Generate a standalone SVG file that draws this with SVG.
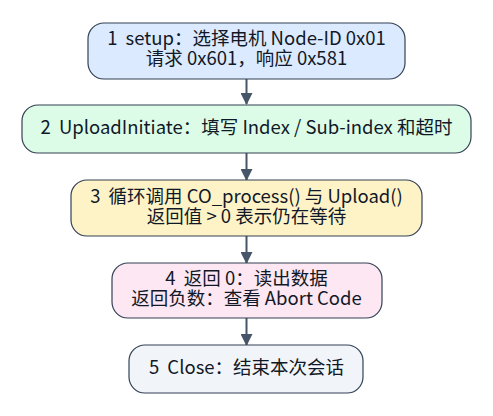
<svg xmlns="http://www.w3.org/2000/svg" width="493" height="416" viewBox="0 0 493 416">
<style>
.n rect{stroke:#334155;stroke-width:1.2}
.n text{font-family:"Noto Sans CJK SC","Noto Sans",sans-serif;font-size:18.5px;fill:#111827;text-anchor:middle}
.e{stroke:#475569;stroke-width:2;fill:none;marker-end:url(#ah)}
</style>
<defs>
<marker id="ah" viewBox="0 0 12 12" refX="11" refY="6" markerWidth="12" markerHeight="12" markerUnits="userSpaceOnUse" orient="auto">
<path d="M0,0 L12,6 L0,12 z" fill="#475569"/>
</marker>
</defs>
<rect width="493" height="416" fill="#ffffff"/>
<g id="edges">
<line class="e" x1="246.5" y1="79" x2="246.5" y2="104"/>
<line class="e" x1="246.5" y1="153" x2="246.5" y2="180"/>
<line class="e" x1="246.5" y1="236" x2="246.5" y2="263"/>
<line class="e" x1="246.5" y1="318" x2="246.5" y2="345"/>
</g>
<g id="n1" class="n">
<rect x="88" y="23" width="317" height="56" rx="16" fill="#dbeafe"/>
<text x="246.5" y="44.5">1 <tspan dx="4">setup：选择电机 Node-ID 0x01</tspan></text>
<text x="246.5" y="64.5">请求 0x601，响应 0x581</text>
</g>
<g id="n2" class="n">
<rect x="22" y="105" width="449" height="48" rx="16" fill="#dcfce7"/>
<text x="246.5" y="134">2 <tspan dx="4">UploadInitiate：填写 Index / Sub-index 和超时</tspan></text>
</g>
<g id="n3" class="n">
<rect x="71" y="180" width="351" height="56" rx="16" fill="#fef3c7"/>
<text x="246.5" y="202.5">3 <tspan dx="4">循环调用 CO_process() 与 Upload()</tspan></text>
<text x="246.5" y="222.5">返回值 &gt; 0 表示仍在等待</text>
</g>
<g id="n4" class="n">
<rect x="112" y="263" width="270" height="55" rx="16" fill="#fce7f3"/>
<text x="246.5" y="285">4 <tspan dx="4">返回 0：读出数据</tspan></text>
<text x="246.5" y="305">返回负数：查看 Abort Code</text>
</g>
<g id="n5" class="n">
<rect x="129" y="345" width="234" height="48" rx="16" fill="#f1f5f9"/>
<text x="246.5" y="374">5 <tspan dx="4">Close：结束本次会话</tspan></text>
</g>
</svg>
